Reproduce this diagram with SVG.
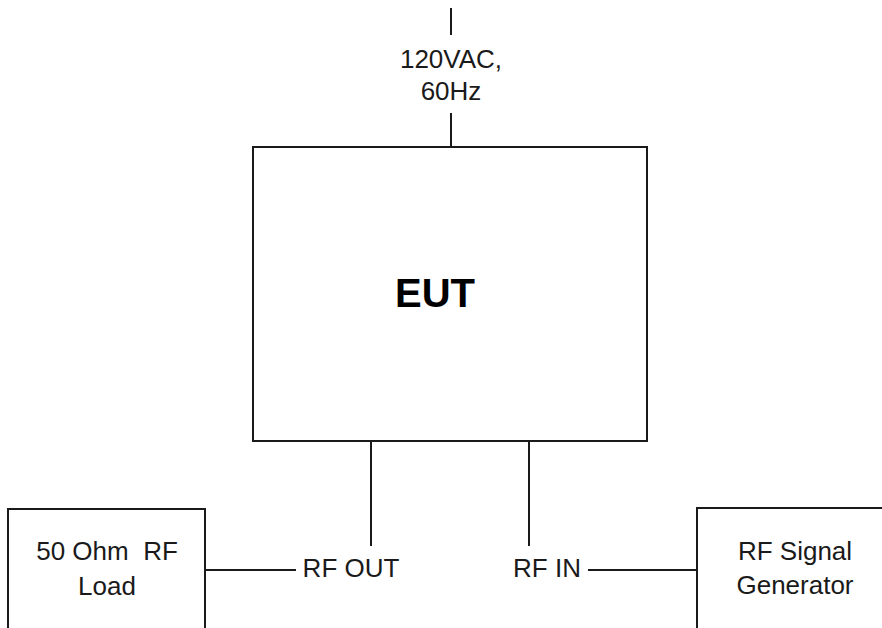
<svg xmlns="http://www.w3.org/2000/svg" width="882" height="628" viewBox="0 0 882 628">
<style>
.box{fill:#fff;stroke:#1a1a1a;stroke-width:2}
.ln{stroke:#1a1a1a;stroke-width:2;fill:none}
.t{font-family:"Liberation Sans",Arial,sans-serif;font-size:26px;fill:#1a1a1a;text-anchor:middle}
.b{font-family:"Liberation Sans",Arial,sans-serif;font-size:40px;font-weight:bold;fill:#000;text-anchor:middle}
</style>
<rect width="882" height="628" fill="#fff"/>
<g id="connectors">
<line class="ln" x1="451" y1="8" x2="451" y2="35"/>
<line class="ln" x1="451" y1="113" x2="451" y2="147"/>
<line class="ln" x1="371" y1="441" x2="371" y2="546"/>
<line class="ln" x1="529" y1="441" x2="529" y2="546"/>
<line class="ln" x1="205" y1="570" x2="296" y2="570"/>
<line class="ln" x1="588" y1="570" x2="697" y2="570"/>
<text class="t" x="451" y="68">120VAC,</text>
<text class="t" x="451" y="100">60Hz</text>
<text class="t" x="351" y="577">RF OUT</text>
<text class="t" x="547" y="577">RF IN</text>
</g>
<g id="eut">
<rect class="box" x="253" y="147" width="394" height="294"/>
<text class="b" x="435" y="307">EUT</text>
</g>
<g id="load">
<rect class="box" x="8" y="509" width="197" height="140"/>
<text class="t" x="107" y="560" xml:space="preserve">50 Ohm  RF</text>
<text class="t" x="107" y="595">Load</text>
</g>
<g id="siggen">
<rect class="box" x="697" y="508" width="220" height="140"/>
<text class="t" x="795" y="560">RF Signal</text>
<text class="t" x="795" y="594">Generator</text>
</g>
</svg>
